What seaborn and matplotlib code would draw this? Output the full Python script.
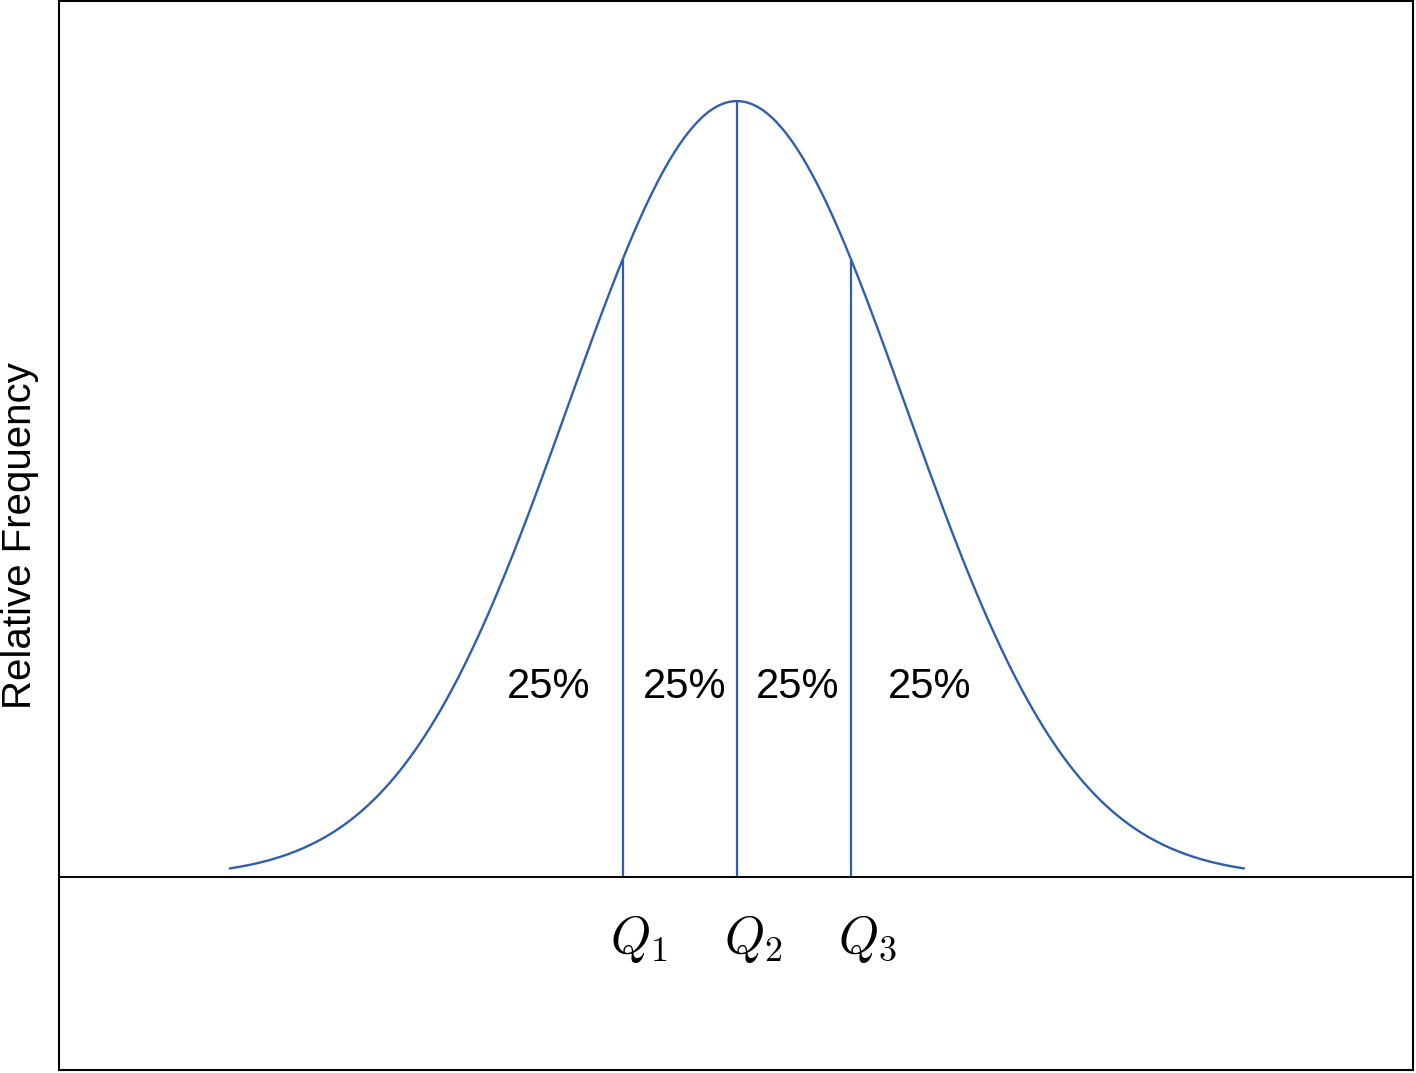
import numpy as np
import pandas as pd
import seaborn as sns
import matplotlib.pyplot as plt

# standard normal curve, x in units of sigma
mu = 0.0
sigma = 1.0
x_min, x_max = -3.0, 3.0
quartile_z = [-0.6745, 0.0, 0.6745]
quartile_labels = [r"$Q_1$", r"$Q_2$", r"$Q_3$"]
share_labels = ["25%", "25%", "25%", "25%"]
share_x = [-1.112, -0.308, 0.361, 1.142]


def normal_pdf(x):
    return np.exp(-0.5 * ((x - mu) / sigma) ** 2) / (sigma * np.sqrt(2 * np.pi))


xs = np.linspace(x_min, x_max, 400)
curve = pd.DataFrame({"x": xs, "density": normal_pdf(xs)})

sns.set_theme(style="white")
plt.rcParams["font.family"] = ["Liberation Sans", "DejaVu Sans"]
plt.rcParams["mathtext.fontset"] = "cm"

blue = "#2f5fac"

fig = plt.figure(figsize=(14.16, 10.73), dpi=100)
ax = fig.add_axes([59 / 1416, 3 / 1073, 1354 / 1416, 1069 / 1073])

sns.lineplot(data=curve, x="x", y="density", color=blue, linewidth=1.7, ax=ax)
ax.vlines(quartile_z, 0, normal_pdf(np.array(quartile_z)), color=blue, linewidth=1.6)
ax.axhline(0, color="black", linewidth=1.4)

for xv, lab in zip(share_x, share_labels):
    ax.text(xv, 0.0975, lab, ha="center", va="center", fontsize=30, color="black")

for q, lab in zip(quartile_z, quartile_labels):
    ax.text(q - 0.075, -0.032, lab, ha="left", va="center", fontsize=37, color="black")

ax.text(-0.0288, 0.5, "Relative Frequency", transform=ax.transAxes, rotation=90,
        ha="center", va="center", fontsize=29, color="black", clip_on=False)

ax.set_xlim(-4.01, 4.0)
ax.set_ylim(-0.0992, 0.4504)
ax.set_xticks([])
ax.set_yticks([])
ax.set_xlabel("")
ax.set_ylabel("")
for sp in ax.spines.values():
    sp.set_color("black")
    sp.set_linewidth(1.5)

fig.savefig("out.png", dpi=100, facecolor="white")
